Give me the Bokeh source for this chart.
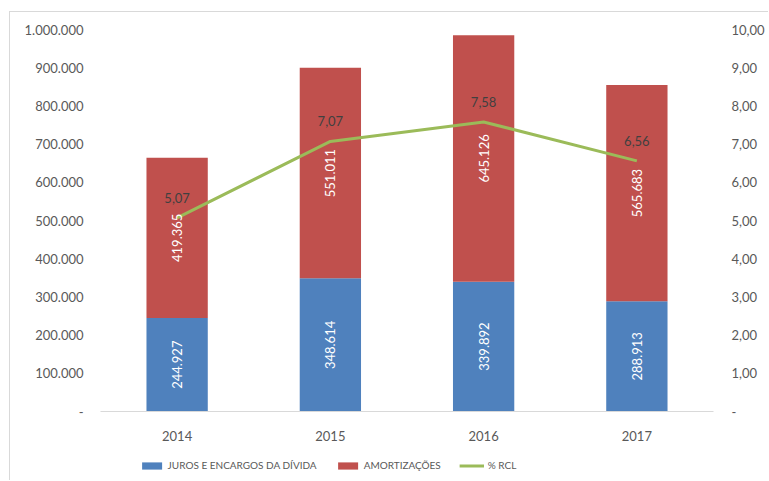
import numpy as np
from bokeh.plotting import figure
from bokeh.layouts import column
from bokeh.models import ColumnDataSource, Range1d, LinearAxis, FixedTicker, Legend, LegendItem
from bokeh.embed import file_html
from bokeh.resources import INLINE
from bokeh.core.properties import value

# ---- data ----
years = ["2014", "2015", "2016", "2017"]
juros = [244927, 348614, 339892, 288913]
amort = [419365, 551011, 645126, 565683]
rcl = [5.07, 7.07, 7.58, 6.56]

left_ticks = [0, 100000, 200000, 300000, 400000, 500000, 600000, 700000, 800000, 900000, 1000000]
left_labels = ["-", "100.000", "200.000", "300.000", "400.000", "500.000",
               "600.000", "700.000", "800.000", "900.000", "1.000.000"]
right_ticks = [0, 1, 2, 3, 4, 5, 6, 7, 8, 9, 10]
right_labels = ["-", "1,00", "2,00", "3,00", "4,00", "5,00", "6,00", "7,00", "8,00", "9,00", "10,00"]

series_names = ["JUROS E ENCARGOS DA DÍVIDA", "AMORTIZAÇÕES", "% RCL"]

BLUE = "#4F81BD"
RED = "#C0504D"
GREEN = "#9BBB59"
TXT = "#595959"
FONT = "Lato"


def thousands(v):
    return f"{v:,}".replace(",", ".")


def pct(v):
    return f"{v:.2f}".replace(".", ",")


total = [a + b for a, b in zip(juros, amort)]
src = ColumnDataSource(dict(
    years=years, juros=juros, amort=amort, total=total, rcl=rcl,
    jmid=[j / 2 for j in juros],
    amid=[j + a / 2 for j, a in zip(juros, amort)],
    jlab=[thousands(v) for v in juros],
    alab=[thousands(v) for v in amort],
    rlab=[pct(v) for v in rcl],
))

p = figure(x_range=years, y_range=Range1d(0, 1000000), width=758, height=438,
           output_backend="svg", toolbar_location=None,
           min_border_left=90, min_border_right=55, min_border_top=17, min_border_bottom=39)
p.extra_y_ranges = {"rcl": Range1d(0, 10)}
p.outline_line_color = None
p.xgrid.grid_line_color = None
p.ygrid.grid_line_color = None

p.vbar(x="years", bottom=0, top="juros", width=0.4, source=src,
       fill_color=BLUE, line_color=None)
p.vbar(x="years", bottom="juros", top="total", width=0.4, source=src,
       fill_color=RED, line_color=None)
p.line(x="years", y="rcl", source=src, y_range_name="rcl",
       line_color=GREEN, line_width=3)

p.text(x="years", y="jmid", text="jlab", source=src, angle=np.pi / 2,
       text_align="center", text_baseline="middle", text_color="white",
       text_font=value(FONT), text_font_size="13px")
p.text(x="years", y="amid", text="alab", source=src, angle=np.pi / 2,
       text_align="center", text_baseline="middle", text_color="white",
       text_font=value(FONT), text_font_size="13px")
p.text(x="years", y="rcl", text="rlab", source=src, y_range_name="rcl",
       y_offset=-20, text_align="center", text_baseline="middle", text_color="#404040",
       text_font=value(FONT), text_font_size="13px")

# left axis
ya = p.yaxis[0]
ya.ticker = FixedTicker(ticks=left_ticks)
ya.major_label_overrides = dict(zip(left_ticks, left_labels))
ya.axis_line_color = None
ya.major_tick_line_color = None
ya.minor_tick_line_color = None
ya.major_tick_out = 0
ya.major_label_standoff = 17
ya.major_label_text_color = TXT
ya.major_label_text_font = FONT
ya.major_label_text_font_size = "13px"

# right axis
ra = LinearAxis(y_range_name="rcl", ticker=FixedTicker(ticks=right_ticks),
                major_label_overrides=dict(zip(right_ticks, right_labels)))
ra.axis_line_color = None
ra.major_tick_line_color = None
ra.minor_tick_line_color = None
ra.major_tick_out = 0
ra.major_label_standoff = 18
ra.major_label_text_color = TXT
ra.major_label_text_font = FONT
ra.major_label_text_font_size = "13px"
p.add_layout(ra, "right")

# x axis
xa = p.xaxis[0]
xa.axis_line_color = "#D9D9D9"
xa.axis_line_width = 1
xa.major_tick_line_color = None
xa.minor_tick_line_color = None
xa.major_tick_out = 0
xa.major_label_standoff = 19
xa.major_label_text_color = TXT
xa.major_label_text_font = FONT
xa.major_label_text_font_size = "13px"

# legend strip below the chart (legend glyphs only; nothing drawn in view)
pl = figure(width=600, height=30, output_backend="svg", toolbar_location=None,
            x_range=Range1d(0, 1), y_range=Range1d(0, 1),
            x_axis_location=None, y_axis_location=None, min_border=0)
pl.outline_line_color = None
pl.xgrid.grid_line_color = None
pl.ygrid.grid_line_color = None
lb = pl.vbar(x=[np.nan], top=[np.nan], width=0.1, fill_color=BLUE, line_color=None)
lr = pl.vbar(x=[np.nan], top=[np.nan], width=0.1, fill_color=RED, line_color=None)
ll = pl.line(x=[np.nan], y=[np.nan], line_color=GREEN, line_width=3)

legend = Legend(items=[
    LegendItem(label=series_names[0], renderers=[lb]),
    LegendItem(label=series_names[1], renderers=[lr]),
    LegendItem(label=series_names[2], renderers=[ll]),
], orientation="horizontal", location="center",
    glyph_width=25, glyph_height=9, spacing=18, label_standoff=4,
    border_line_color=None, background_fill_alpha=0,
    label_text_font=FONT, label_text_font_size="10px", label_text_color=TXT,
    padding=0, margin=0)
pl.add_layout(legend, "center")

layout = column(p, pl, spacing=0, margin=(11, 0, 0, 9),
                styles={"border-top": "1px solid #D9D9D9", "border-left": "1px solid #D9D9D9"})

open("out.html", "w").write(file_html(layout, INLINE))
